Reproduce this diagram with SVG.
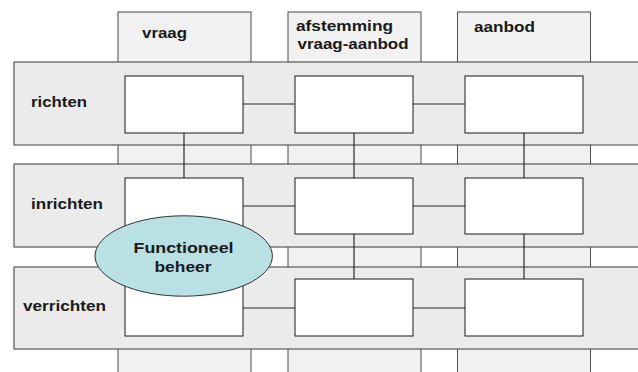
<svg xmlns="http://www.w3.org/2000/svg" width="638" height="372" viewBox="0 0 638 372">
<style>
.col{fill:#f1f1f1;stroke:#4a4a4a;stroke-width:1}
.row{fill:#ebebeb;stroke:#3a3a3a;stroke-width:1}
.box{fill:#ffffff;stroke:#1a1a1a;stroke-width:1}
.con{stroke:#2a2a2a;stroke-width:1.2;fill:none}
.lbl{font-family:"Liberation Sans",Arial,sans-serif;font-weight:bold;font-size:15px;fill:#1a1a1a}
.ctr{text-anchor:middle}
</style>
<rect width="638" height="372" fill="#ffffff"/>
<g id="columns">
<g id="col-vraag"><rect class="col" x="118" y="12" width="133" height="370"/><text class="lbl" x="142" y="37.5" textLength="45" lengthAdjust="spacingAndGlyphs">vraag</text></g>
<g id="col-afstemming"><rect class="col" x="288" y="12" width="133" height="370"/><text class="lbl" x="296" y="31" textLength="97" lengthAdjust="spacingAndGlyphs">afstemming</text><text class="lbl" x="297.5" y="48.5" textLength="111" lengthAdjust="spacingAndGlyphs">vraag-aanbod</text></g>
<g id="col-aanbod"><rect class="col" x="457.5" y="12" width="133" height="370"/><text class="lbl" x="474" y="31.5" textLength="61" lengthAdjust="spacingAndGlyphs">aanbod</text></g>
</g>
<g id="rows">
<g id="row-richten"><rect class="row" x="14" y="62" width="630" height="83"/><text class="lbl" x="31" y="107" textLength="56" lengthAdjust="spacingAndGlyphs">richten</text></g>
<g id="row-inrichten"><rect class="row" x="14" y="164" width="630" height="83"/><text class="lbl" x="31" y="209" textLength="72" lengthAdjust="spacingAndGlyphs">inrichten</text></g>
<g id="row-verrichten"><rect class="row" x="14" y="267" width="630" height="82"/><text class="lbl" x="23" y="310.5" textLength="83" lengthAdjust="spacingAndGlyphs">verrichten</text></g>
</g>
<g id="connectors">
<line class="con" x1="243" y1="104" x2="295" y2="104"/>
<line class="con" x1="413" y1="104" x2="465" y2="104"/>
<line class="con" x1="184" y1="133" x2="184" y2="178"/>
<line class="con" x1="354" y1="133" x2="354" y2="178"/>
<line class="con" x1="524" y1="133" x2="524" y2="178"/>
<line class="con" x1="243" y1="206" x2="295" y2="206"/>
<line class="con" x1="413" y1="206" x2="465" y2="206"/>
<line class="con" x1="354" y1="234" x2="354" y2="279"/>
<line class="con" x1="524" y1="234" x2="524" y2="279"/>
<line class="con" x1="243" y1="308" x2="295" y2="308"/>
<line class="con" x1="413" y1="308" x2="465" y2="308"/>
</g>
<g id="boxes">
<rect id="b11" class="box" x="125" y="76" width="118" height="57"/>
<rect id="b12" class="box" x="295" y="76" width="118" height="57"/>
<rect id="b13" class="box" x="465" y="76" width="118" height="57"/>
<rect id="b21" class="box" x="125" y="178" width="118" height="56"/>
<rect id="b22" class="box" x="295" y="178" width="118" height="56"/>
<rect id="b23" class="box" x="465" y="178" width="118" height="56"/>
<rect id="b31" class="box" x="125" y="279" width="118" height="57"/>
<rect id="b32" class="box" x="295" y="279" width="118" height="57"/>
<rect id="b33" class="box" x="465" y="279" width="118" height="57"/>
</g>
<g id="functioneel-beheer">
<ellipse cx="183.7" cy="256" rx="88.7" ry="40.2" fill="#b9e0e3" stroke="#333333" stroke-width="1"/>
<text class="lbl ctr" x="183.5" y="252.5" textLength="100" lengthAdjust="spacingAndGlyphs">Functioneel</text>
<text class="lbl ctr" x="183" y="271.5" textLength="57" lengthAdjust="spacingAndGlyphs">beheer</text>
</g>
</svg>
